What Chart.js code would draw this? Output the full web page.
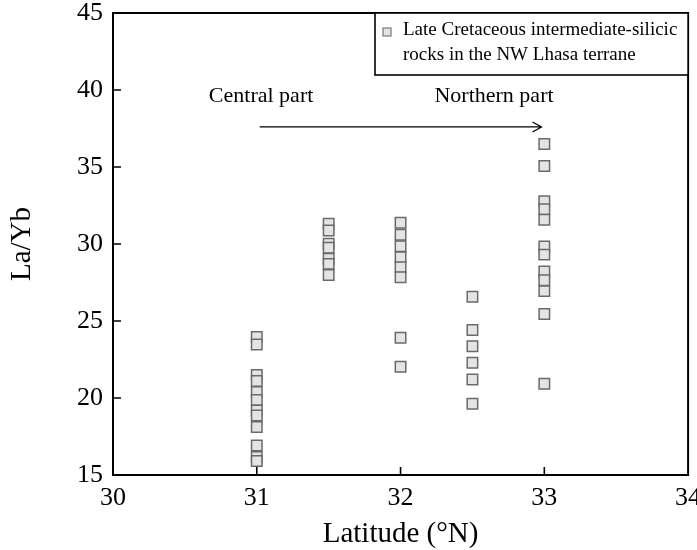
<!DOCTYPE html>
<html>
<head>
<meta charset="utf-8">
<script src="https://cdn.jsdelivr.net/npm/chart.js@4"></script>
<style>
  html, body { margin: 0; padding: 0; background: #fff; }
  #chart { display: block; }
</style>
</head>
<body>
<canvas id="chart" width="697" height="550"></canvas>
<script>
// latitude of each sample column (°N)
const latitudes = [31, 31.5, 32, 32.5, 33];

// La/Yb values, one list per column
const laYb31 = [23.96, 23.47, 21.49, 21.1, 20.39, 19.87, 19.19, 18.86, 18.12, 16.92, 16.17, 15.91];
const laYb315 = [31.31, 30.88, 30.01, 29.75, 29.04, 28.71, 27.99];
const laYb32 = [31.38, 30.6, 29.86, 29.14, 28.49, 27.84, 23.91, 22.03];
const laYb325 = [26.58, 24.42, 23.36, 22.29, 21.2, 19.62];
const laYb33 = [36.49, 35.06, 32.77, 32.25, 31.58, 29.84, 29.31, 28.21, 27.64, 26.94, 25.45, 20.92];

const xTicks = [30, 31, 32, 33, 34];
const yTicks = [15, 20, 25, 30, 35, 40, 45];

const legendLines = ['Late Cretaceous intermediate-silicic', 'rocks in the NW Lhasa terrane'];

const serif = "'Liberation Serif', 'Times New Roman', serif";

const columns = [laYb31, laYb315, laYb32, laYb325, laYb33];
const points = [];
columns.forEach((col, i) => {
  col.forEach(v => points.push({ x: latitudes[i], y: v }));
});

// frame, inward ticks, arrow, notes and the boxed legend
const decor = {
  id: 'decor',
  afterDraw(chart) {
    const { ctx, chartArea: a, scales: { x, y } } = chart;
    ctx.save();
    ctx.strokeStyle = '#000';
    ctx.lineWidth = 2;
    ctx.strokeRect(a.left, a.top, a.right - a.left, a.bottom - a.top);

    ctx.lineWidth = 1.6;
    ctx.beginPath();
    xTicks.slice(1, -1).forEach(t => {
      const px = x.getPixelForValue(t);
      ctx.moveTo(px, a.bottom);
      ctx.lineTo(px, a.bottom - 8);
    });
    yTicks.slice(1, -1).forEach(t => {
      const py = y.getPixelForValue(t);
      ctx.moveTo(a.left, py);
      ctx.lineTo(a.left + 8, py);
    });
    ctx.stroke();

    // arrow central -> northern
    const ay = y.getPixelForValue(37.6);
    const x0 = x.getPixelForValue(31.02);
    const x1 = x.getPixelForValue(32.98);
    ctx.lineWidth = 1.3;
    ctx.beginPath();
    ctx.moveTo(x0, ay);
    ctx.lineTo(x1, ay);
    ctx.moveTo(x1 - 9, ay - 5);
    ctx.lineTo(x1, ay);
    ctx.lineTo(x1 - 9, ay + 5);
    ctx.stroke();

    ctx.fillStyle = '#000';
    ctx.font = '22px ' + serif;
    ctx.textAlign = 'center';
    ctx.textBaseline = 'alphabetic';
    ctx.fillText('Central part', x.getPixelForValue(31.03), y.getPixelForValue(39.2));
    ctx.fillText('Northern part', x.getPixelForValue(32.65), y.getPixelForValue(39.2));

    // legend box
    ctx.lineWidth = 1.6;
    ctx.fillStyle = '#fff';
    ctx.fillRect(375, a.top, a.right - 375, 62);
    ctx.strokeRect(375, a.top, a.right - 375, 62);
    ctx.fillStyle = '#e3e3e3';
    ctx.strokeStyle = '#777';
    ctx.lineWidth = 1.2;
    ctx.fillRect(383, 28, 8, 8);
    ctx.strokeRect(383, 28, 8, 8);
    ctx.fillStyle = '#000';
    ctx.font = '19px ' + serif;
    ctx.textAlign = 'left';
    ctx.fillText(legendLines[0], 403, 35);
    ctx.fillText(legendLines[1], 403, 60);
    ctx.restore();
  }
};

const ctx = document.getElementById('chart').getContext('2d');
const chart = new Chart(ctx, {
  type: 'scatter',
  data: {
    datasets: [{
      label: legendLines.join(' '),
      data: points,
      pointStyle: 'rect',
      pointRadius: 7.4,
      backgroundColor: '#e4e4e4',
      borderColor: '#6a6a6a',
      borderWidth: 1.5
    }]
  },
  options: {
    responsive: false,
    animation: false,
    layout: { padding: { top: 13, right: -2, left: 0, bottom: 0 } },
    plugins: {
      legend: { display: false },
      tooltip: { enabled: false }
    },
    scales: {
      x: {
        type: 'linear',
        min: 30,
        max: 34,
        afterBuildTicks: s => { s.ticks = xTicks.map(v => ({ value: v })); },
        ticks: { color: '#000', padding: 8, font: { family: serif, size: 26 } },
        grid: { display: false, drawTicks: false },
        border: { display: false },
        title: {
          display: true,
          text: 'Latitude (°N)',
          color: '#000',
          font: { family: serif, size: 29, lineHeight: 1 },
          padding: { top: 0, bottom: 1 }
        },
        afterFit: s => { s.height = 75; s.paddingLeft = 0; s.paddingRight = 0; }
      },
      y: {
        type: 'linear',
        min: 15,
        max: 45,
        afterBuildTicks: s => { s.ticks = yTicks.map(v => ({ value: v })); },
        ticks: { color: '#000', padding: 10, font: { family: serif, size: 26 } },
        grid: { display: false, drawTicks: false },
        border: { display: false },
        title: {
          display: true,
          text: 'La/Yb',
          color: '#000',
          font: { family: serif, size: 29, lineHeight: 1 },
          padding: { top: 8, bottom: 0 }
        },
        afterFit: s => { s.width = 113; s.paddingTop = 0; s.paddingBottom = 0; }
      }
    }
  },
  plugins: [decor]
});
</script>
</body>
</html>
